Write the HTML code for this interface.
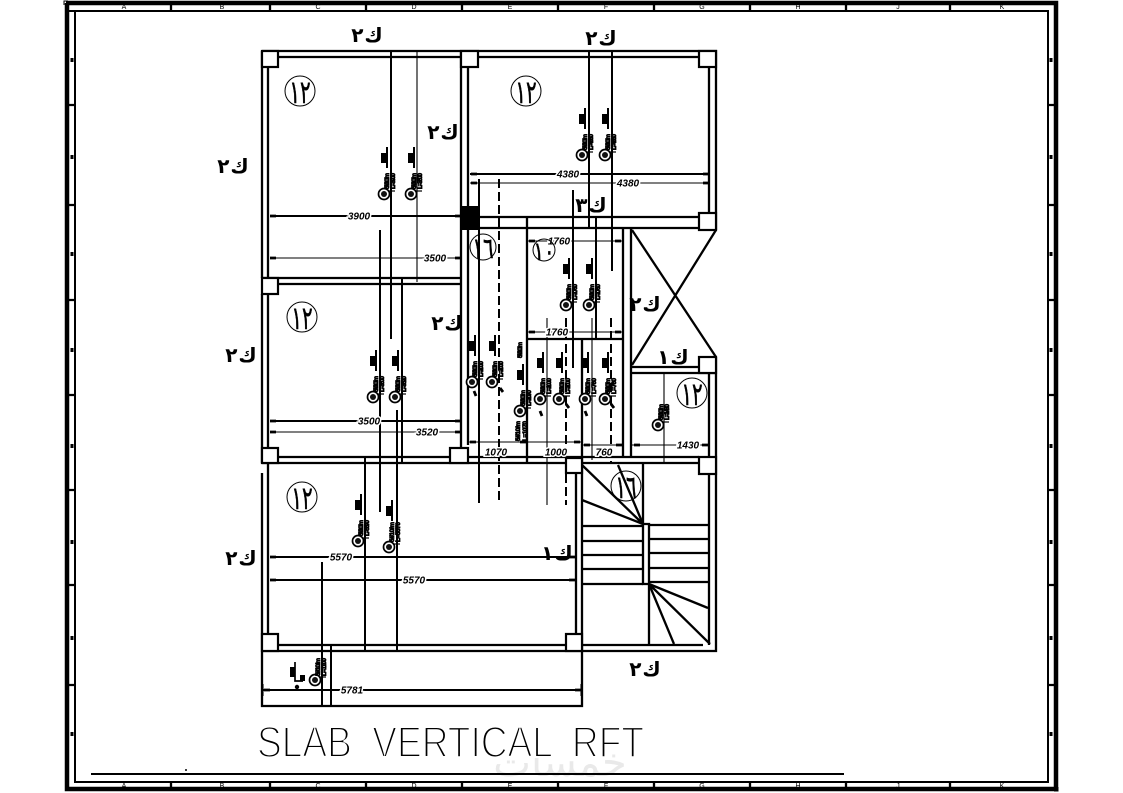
<!DOCTYPE html>
<html><head><meta charset="utf-8"><style>
html,body{margin:0;padding:0;background:#fff}
svg{display:block}
.w{stroke:#000;stroke-width:2.3;fill:none}
.b{stroke:#000;stroke-width:2;fill:none}
.t{stroke:#000;stroke-width:1.1;fill:none}
.da{stroke:#000;stroke-width:2;fill:none;stroke-dasharray:9 4}
.c{fill:#fff;stroke:#000;stroke-width:2.2}
.d{font:italic bold 10px "Liberation Sans",sans-serif;text-anchor:middle;fill:#000;stroke:#fff;stroke-width:3;paint-order:stroke}
.r{font:bold 6.500px "Liberation Sans",sans-serif;fill:#000;stroke:#000;stroke-width:.8}
.k{font:bold 20px "DejaVu Sans",sans-serif;text-anchor:middle;fill:#000;word-spacing:-6px}
.n{font:32px "DejaVu Sans",sans-serif;text-anchor:middle;fill:#000;stroke:#000;stroke-width:.5}
.f{font:7px "Liberation Sans",sans-serif;text-anchor:middle;fill:#000}
</style></head><body>
<svg width="1123" height="793" viewBox="0 0 1123 793" xmlns="http://www.w3.org/2000/svg">
<defs>
<g id="m"><circle r="5.500" fill="#fff" stroke="#000" stroke-width="1.700"/><circle r="3" fill="#111"/><path d="M3-47V-26" stroke="#000" stroke-width="2"/><rect x="-3" y="-41" width="6" height="10"/><path d="M4-3H11" stroke="#000" stroke-width="1.200"/></g>
<g id="c"><circle r="5.500" fill="#fff" stroke="#000" stroke-width="1.700"/><circle r="3" fill="#111"/><path d="M4-3H11" stroke="#000" stroke-width="1.200"/></g>
</defs>
<rect width="1123" height="793" fill="#fff"/>

<!-- watermark -->
<text x="560" y="776" font-family="'DejaVu Sans',sans-serif" font-size="40" text-anchor="middle" fill="#e9e9e9">خمسات</text>

<!-- frame -->
<path d="M67 3V789H1056V3H66" fill="none" stroke="#000" stroke-width="4.500"/>
<path d="M75 11V782H1048V11H69" fill="none" stroke="#000" stroke-width="2"/>
<path d="M64 5V1H68M1058 787V791H1054" fill="none" stroke="#000" stroke-width="1"/>
<path class="w" d="M171 4V11M270 4V11M366 4V11M462 4V11M558 4V11M654 4V11M750 4V11M846 4V11M950 4V11M171 782V788M270 782V788M366 782V788M462 782V788M558 782V788M654 782V788M750 782V788M846 782V788M950 782V788M69 105H75M69 205H75M69 300H75M69 395H75M69 490H75M69 585H75M69 685H75M1048 105H1054M1048 205H1054M1048 300H1054M1048 395H1054M1048 490H1054M1048 585H1054M1048 685H1054"/>
<path d="M72 58v4M72 155v4M72 252v4M72 348v4M72 444v4M72 540v4M72 636v4M72 732v4M1051 58v4M1051 155v4M1051 252v4M1051 348v4M1051 444v4M1051 540v4M1051 636v4M1051 732v4" stroke="#000" stroke-width="3"/>
<g class="f">
<text x="124" y="9">A</text><text x="222" y="9">B</text><text x="318" y="9">C</text><text x="414" y="9">D</text><text x="510" y="9">E</text><text x="606" y="9">F</text><text x="702" y="9">G</text><text x="798" y="9">H</text><text x="898" y="9">J</text><text x="1002" y="9">K</text>
<text x="124" y="788">A</text><text x="222" y="788">B</text><text x="318" y="788">C</text><text x="414" y="788">D</text><text x="510" y="788">E</text><text x="606" y="788">F</text><text x="702" y="788">G</text><text x="798" y="788">H</text><text x="898" y="788">J</text><text x="1002" y="788">K</text>
</g>

<!-- outer and main walls -->
<g class="w">
<path d="M262 51H716V230"/>
<path d="M278 57H461M478 57H699"/>
<path d="M262 51V278M268 67V278"/>
<path d="M262 294V463M268 294V448"/>
<path d="M461 51V450M468 67V445"/>
<path d="M709 67V213"/>
<path d="M262 278H461M278 284H461"/>
<path d="M479 217H699M479 228H716"/>
<path d="M262 463H716M278 457H450M468 457H699"/>
<path d="M262 473V651M268 463V634"/>
<path d="M576 473V634M582 463V706H262V651M262 651H716V463M278 645H566M582 645H703"/>
<path d="M709 474V645"/>
<path d="M527 218V463M527 339H623M582 339V463"/>
<path d="M623 228V457M631 228V457"/>
<path d="M631 367H699M631 373H716M716 357V463M709 373V457"/>
<path d="M632 230L716 357M716 230L632 365"/>
</g>

<!-- stairs -->
<g class="w">
<path d="M643 463V524M643 524H649V584H643ZM649 584V645"/>
<path d="M582 526H643M582 541H643M582 555H643M582 569H643M582 584H643"/>
<path d="M649 525H708M649 539H708M649 553H708M649 568H708M649 582H708"/>
<path d="M643 524L582 465M643 524L582 500M643 524L618 465"/>
<path d="M649 584L708 608M649 584L710 644M649 584L674 644"/>
</g>

<!-- columns -->
<rect class="c" x="262" y="51" width="16" height="16"/>
<rect class="c" x="461" y="51" width="17" height="16"/>
<rect class="c" x="699" y="51" width="17" height="16"/>
<rect class="c" x="699" y="213" width="17" height="17"/>
<rect class="c" x="262" y="278" width="16" height="16"/>
<rect class="c" x="262" y="448" width="16" height="15"/>
<rect class="c" x="450" y="448" width="18" height="15"/>
<rect class="c" x="699" y="357" width="17" height="16"/>
<rect class="c" x="699" y="457" width="17" height="17"/>
<rect class="c" x="566" y="458" width="16" height="15"/>
<rect class="c" x="262" y="634" width="16" height="17"/>
<rect class="c" x="566" y="634" width="16" height="17"/>
<rect x="460" y="206" width="19" height="24" fill="#000"/>

<!-- bars -->
<g class="b">
<path d="M391 51V339M380 230V512M402 278V463M397 410V651M365 457V651"/>
<path d="M589 51V229M612 51V271M596 218V338M573 190V368"/>
<path d="M479 179V503M322 562V706M331 645V706"/>
</g>
<path class="da" d="M499 179V503M566 318V505M611 318V463"/>
<path class="t" d="M417 51V282M547 318V505M592 318V460M664 373V463"/>

<!-- dimensions -->
<g class="b">
<path d="M270 216H461M270 421H461M270 557H575M270 580H575M263 690H581M470 174H709"/>
</g>
<g class="t">
<path d="M270 258H461M270 432H461M470 183H709M527 241H623M527 332H623M468 442H581M582 445H623M631 445H709M263 684V696M581 684V696"/>
</g>
<path stroke="#000" stroke-width="2.800" d="M270 216h6M455 216h6M270 258h6M455 258h6M270 421h6M455 421h6M270 432h6M455 432h6M270 557h6M569 557h6M270 580h6M569 580h6M264 690h6M575 690h6M471 174h6M703 174h6M471 183h6M703 183h6M529 241h6M615 241h6M529 332h6M615 332h6M470 442h6M520 442h6M574 442h6M584 445h6M616 445h6M634 445h6M702 445h6" fill="none"/>
<g class="d">
<text x="359" y="219.500">3900</text><text x="435" y="261.500">3500</text>
<text x="369" y="424.500">3500</text><text x="427" y="435.500">3520</text>
<text x="568" y="177.500">4380</text><text x="628" y="186.500">4380</text>
<text x="341" y="560.500">5570</text><text x="414" y="583.500">5570</text>
<text x="352" y="693.500">5781</text>
<text x="559" y="244.500">1760</text><text x="557" y="335.500">1760</text>
<text x="496" y="455.500">1070</text><text x="556" y="455.500">1000</text><text x="604" y="455.500">760</text><text x="688" y="448.500">1430</text>
</g>

<!-- rebar marks -->
<g transform="translate(384,194)"><use href="#m"/><text class="r" transform="rotate(-90)" x="5" y="5" textLength="16">5#10/m</text><text class="r" transform="rotate(-90)" x="5" y="11" textLength="16">L=3900</text></g>
<g transform="translate(411,194)"><use href="#m"/><text class="r" transform="rotate(-90)" x="5" y="5" textLength="16">5#10/m</text><text class="r" transform="rotate(-90)" x="5" y="11" textLength="16">L=3500</text></g>
<g transform="translate(582,155)"><use href="#m"/><text class="r" transform="rotate(-90)" x="5" y="5" textLength="16">5#10/m</text><text class="r" transform="rotate(-90)" x="5" y="11" textLength="16">L=4380</text></g>
<g transform="translate(605,155)"><use href="#m"/><text class="r" transform="rotate(-90)" x="5" y="5" textLength="16">5#10/m</text><text class="r" transform="rotate(-90)" x="5" y="11" textLength="16">L=4380</text></g>
<g transform="translate(373,397)"><use href="#m"/><text class="r" transform="rotate(-90)" x="5" y="5" textLength="16">5#10/m</text><text class="r" transform="rotate(-90)" x="5" y="11" textLength="16">L=3500</text></g>
<g transform="translate(395,397)"><use href="#m"/><text class="r" transform="rotate(-90)" x="5" y="5" textLength="16">5#10/m</text><text class="r" transform="rotate(-90)" x="5" y="11" textLength="16">L=3520</text></g>
<g transform="translate(358,541)"><use href="#m"/><text class="r" transform="rotate(-90)" x="5" y="5" textLength="16">5#10/m</text><text class="r" transform="rotate(-90)" x="5" y="11" textLength="16">L=5570</text></g>
<g transform="translate(389,547)"><use href="#m"/><text class="r" transform="rotate(-90)" x="5" y="5" textLength="20">5#10/m</text><text class="r" transform="rotate(-90)" x="5" y="11" textLength="20">L=5570</text></g>
<g transform="translate(566,305)"><use href="#m"/><text class="r" transform="rotate(-90)" x="5" y="5" textLength="16">5#10/m</text><text class="r" transform="rotate(-90)" x="5" y="11" textLength="16">L=1760</text></g>
<g transform="translate(589,305)"><use href="#m"/><text class="r" transform="rotate(-90)" x="5" y="5" textLength="16">5#10/m</text><text class="r" transform="rotate(-90)" x="5" y="11" textLength="16">L=1760</text></g>
<g transform="translate(472,382)"><use href="#m"/><text class="r" transform="rotate(-90)" x="5" y="5" textLength="16">5#10/m</text><text class="r" transform="rotate(-90)" x="5" y="11" textLength="16">L=2000</text></g>
<g transform="translate(492,382)"><use href="#m"/><text class="r" transform="rotate(-90)" x="5" y="5" textLength="16">5#10/m</text><text class="r" transform="rotate(-90)" x="5" y="11" textLength="16">L=2000</text></g>
<g transform="translate(520,411)"><use href="#m"/><text class="r" transform="rotate(-90)" x="5" y="5" textLength="16">5#10/m</text><text class="r" transform="rotate(-90)" x="5" y="11" textLength="16">L=1070</text></g>
<g transform="translate(540,399)"><use href="#m"/><text class="r" transform="rotate(-90)" x="5" y="5" textLength="16">5#10/m</text><text class="r" transform="rotate(-90)" x="5" y="11" textLength="16">L=1000</text></g>
<g transform="translate(559,399)"><use href="#m"/><text class="r" transform="rotate(-90)" x="5" y="5" textLength="16">5#10/m</text><text class="r" transform="rotate(-90)" x="5" y="11" textLength="16">L=1000</text></g>
<g transform="translate(585,399)"><use href="#m"/><text class="r" transform="rotate(-90)" x="5" y="5" textLength="16">5#10/m</text><text class="r" transform="rotate(-90)" x="5" y="11" textLength="16">L=760</text></g>
<g transform="translate(605,399)"><use href="#m"/><text class="r" transform="rotate(-90)" x="5" y="5" textLength="16">5#10/m</text><text class="r" transform="rotate(-90)" x="5" y="11" textLength="16">L=760</text></g>
<g transform="translate(658,425)"><use href="#c"/><text class="r" transform="rotate(-90)" x="5" y="5" textLength="16">5#10/m</text><text class="r" transform="rotate(-90)" x="5" y="11" textLength="16">L=1430</text></g>
<g transform="translate(315,680)"><use href="#c"/><text class="r" transform="rotate(-90)" x="4" y="5" textLength="18">5#10/m</text><text class="r" transform="rotate(-90)" x="4" y="11" textLength="18">L=1100</text></g>
<path d="M295 662V681H303" fill="none" stroke="#000" stroke-width="1.700"/><rect x="290" y="667" width="5" height="10"/><rect x="300" y="675" width="5" height="6"/><circle cx="297" cy="687" r="2.200"/>
<text class="r" transform="translate(522,358) rotate(-90)" x="0" y="0" textLength="16">5#10/m</text>
<text class="r" transform="translate(520,441) rotate(-90)" x="0" y="0" textLength="20">5#10/m</text>
<text class="r" transform="translate(527,441) rotate(-90)" x="0" y="0" textLength="20">L=1070</text>
<path d="M474 391l2 5M540 411l2 5M585 411l2 5M500 388l3 4M566 404l3 4M611 404l3 4" stroke="#000" stroke-width="2.800" fill="none"/>

<!-- circles -->
<g fill="#fff" stroke="#000" stroke-width="1">
<circle cx="300" cy="91" r="15"/><circle cx="526" cy="91" r="15"/><circle cx="302" cy="317" r="15"/><circle cx="302" cy="497" r="15"/><circle cx="692" cy="393" r="15"/><circle cx="483" cy="247" r="13"/><circle cx="544" cy="250" r="11" fill="none"/><circle cx="626" cy="486" r="15" fill="none"/>
</g>
<path class="b" d="M479 234V262M612 232V271M573 232V262"/>
<g class="n">
<text transform="translate(300,103) scale(.62,1)">١٢</text>
<text transform="translate(526,103) scale(.62,1)">١٢</text>
<text transform="translate(302,329) scale(.62,1)">١٢</text>
<text transform="translate(302,509) scale(.62,1)">١٢</text>
<text transform="translate(692,405) scale(.62,1)">١٢</text>
<text transform="translate(483,258) scale(.62,.9)">١٦</text>
<text transform="translate(544,260) scale(.62,.8)">١٠</text>
<text transform="translate(626,498) scale(.62,1)">١٦</text>
</g>

<!-- labels -->
<g class="k">
<text x="367" y="42">ك ٢</text><text x="601" y="45">ك ٢</text><text x="443" y="139">ك ٢</text><text x="233" y="173">ك ٢</text>
<text x="241" y="362">ك ٢</text><text x="241" y="565">ك ٢</text><text x="447" y="330">ك ٢</text>
<text x="591" y="212">ك ٣</text><text x="645" y="311">ك ٢</text><text x="645" y="676">ك ٢</text>
<text x="673" y="364">ك ١</text><text x="557" y="560">ك ١</text>
</g>

<!-- title -->
<text x="257" y="757" font-family="'Liberation Sans',sans-serif" font-size="44" textLength="387" lengthAdjust="spacingAndGlyphs" fill="#000" stroke="#fff" stroke-width="2" style="word-spacing:12px">SLAB VERTICAL RFT</text>
<path d="M91 774H844" stroke="#000" stroke-width="2"/>
<path d="M185 770h2" stroke="#000" stroke-width="1.500"/>
</svg>
</body></html>
